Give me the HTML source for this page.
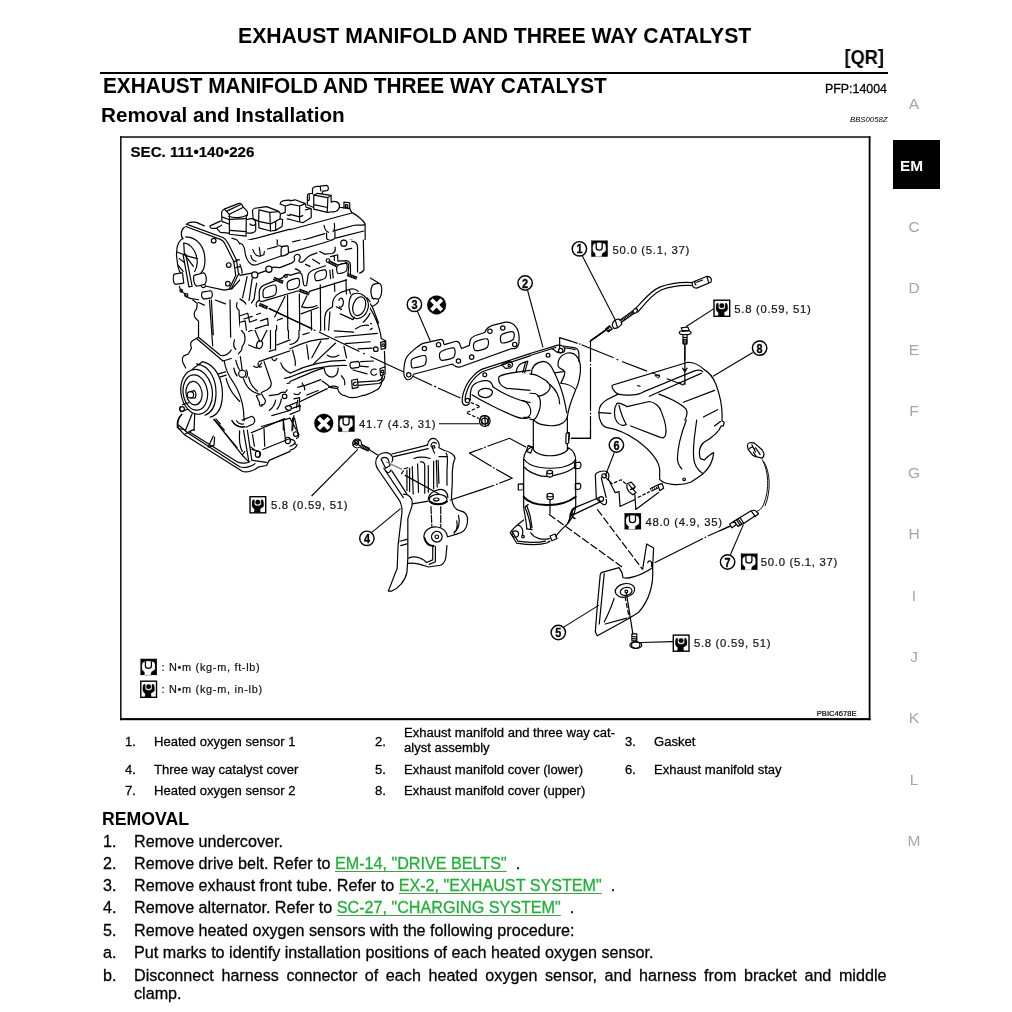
<!DOCTYPE html>
<html><head><meta charset="utf-8">
<style>
html,body{margin:0;padding:0;background:#fff;}
body{width:1012px;height:1012px;position:relative;overflow:hidden;font-family:"Liberation Sans",sans-serif;color:#000;}
.abs{position:absolute;white-space:nowrap;line-height:1;}
.b{font-weight:bold;}
.li,.lg,#pfp{-webkit-text-stroke:0.28px #000;}
a.g{-webkit-text-stroke:0.28px #20b038;}
body>*{will-change:transform;}
.tab{position:absolute;left:894.4px;width:40px;text-align:center;color:#a6a6a6;font-size:15.5px;line-height:1;}
.lg{position:absolute;font-size:13.05px;line-height:15.2px;white-space:nowrap;margin-top:0px;}
.li{position:absolute;left:103px;font-size:16.15px;line-height:1;white-space:nowrap;}
.li span.t{position:absolute;left:31px;top:0;}
a.g{color:#20b038;text-decoration:underline;text-decoration-color:#4a9a4a;text-decoration-thickness:1.4px;text-underline-offset:1.5px;}
</style></head><body>
<div class="abs b" id="t1" style="left:237.5px;top:24.7px;font-size:21.2px;">EXHAUST MANIFOLD AND THREE WAY CATALYST</div>
<div class="abs b" id="qr" style="right:128.3px;top:47.6px;font-size:19.4px;transform:scaleX(0.94);transform-origin:right;">[QR]</div>
<div style="position:absolute;left:100px;top:71.9px;width:788.3px;height:2.3px;background:#000;"></div>
<div class="abs b" id="t2" style="left:102.5px;top:74.6px;font-size:20.8px;transform:scaleY(1.045);transform-origin:0 0;">EXHAUST MANIFOLD AND THREE WAY CATALYST</div>
<div class="abs" id="pfp" style="right:125px;top:82.5px;font-size:12.4px;">PFP:14004</div>
<div class="abs b" id="t3" style="left:101px;top:105.3px;font-size:20.7px;">Removal and Installation</div>
<div class="abs" id="bbs" style="right:124.3px;top:115.6px;font-size:7.75px;font-style:italic;">BBS0058Z</div>




<svg id="dg" width="1012" height="1012" viewBox="0 0 1012 1012" style="position:absolute;left:0;top:0;" font-family="Liberation Sans, sans-serif">
<defs>
<g id="tqA"><rect width="16.4" height="16.1" fill="#000"/>
<path fill="#fff" d="M3.4,3 L5,2.4 L7.9,2 L10.8,2.4 L13.2,3 C14.2,3.6 14.6,5 14.6,7 L14.6,9.5 C14.6,11.5 11.5,12 10.9,13.2 L10.3,16.2 L3.9,16.2 L4.1,13.4 C3.4,12 1.4,11.5 1.4,9.5 L1.4,7 C1.4,5 1.9,3.6 3.4,3 Z"/>
<path fill="none" stroke="#000" stroke-width="1.3" d="M4.9,2.4 L4.9,7.1 Q4.9,9.5 7.9,9.5 Q10.9,9.5 10.9,7.1 L10.9,2.4"/></g>
<g id="tqB"><rect x="0.7" y="0.7" width="15.7" height="16.1" fill="#fff" stroke="#000" stroke-width="1.4"/>
<path fill="#000" d="M4.2,3.6 C3,4.2 2.7,5.5 2.7,7.5 L2.7,9.5 C2.7,11.5 4.4,12 5.2,13.4 L4.8,16.6 L11.2,16.6 L10.8,13.2 C11.4,12 14.4,11.5 14.4,9.5 L14.4,7.5 C14.4,5.5 14,4.2 12.8,3.6 L11.8,4 L11.8,8 C11.8,10.4 5.2,10.4 5.2,8 L5.2,4 Z"/>
<circle cx="8.5" cy="6.2" r="2.4" fill="#000"/></g>
<g id="nx"><circle r="9.5" fill="#000"/><path d="M-5.2,-5.2 L5.2,5.2 M-5.2,5.2 L5.2,-5.2" stroke="#fff" stroke-width="3.9" fill="none"/></g>
</defs>
<g id="box" fill="#000"><rect x="120.1" y="136.3" width="750.4" height="1.45"/><rect x="120.1" y="136.3" width="1.45" height="583.9"/><rect x="120.1" y="718.1" width="750.4" height="2.1"/><rect x="868.7" y="136.3" width="1.8" height="583.9"/></g>
<g id="labels" fill="#151515" stroke="#151515" stroke-width="0.22">
<text x="130.5" y="157" font-size="15.1" font-weight="bold" fill="#000">SEC. 111&#8226;140&#8226;226</text>
<!-- legend in box -->
<use href="#tqA" x="140.5" y="658.9"/><text x="161.6" y="671.3" font-size="10.9" letter-spacing="0.7">: N&#8226;m (kg-m, ft-lb)</text>
<use href="#tqB" x="140.1" y="680.5"/><text x="161.6" y="693" font-size="10.9" letter-spacing="0.7">: N&#8226;m (kg-m, in-lb)</text>
<text x="816.8" y="716.3" font-size="7.6" fill="#000">PBIC4678E</text>
<!-- torque labels -->
<use href="#tqA" x="591.3" y="240.6"/><text x="612.6" y="253.5" font-size="11.3" letter-spacing="0.72">50.0 (5.1, 37)</text>
<use href="#tqB" x="713.3" y="299.5"/><text x="734.3" y="312.5" font-size="11.3" letter-spacing="0.72">5.8 (0.59, 51)</text>
<use href="#nx" x="323.8" y="423.3"/><use href="#tqA" x="338.2" y="415.6"/><text x="359" y="427.9" font-size="11.3" letter-spacing="0.72">41.7 (4.3, 31)</text>
<use href="#tqB" x="249.3" y="496"/><text x="270.9" y="508.5" font-size="11.3" letter-spacing="0.72">5.8 (0.59, 51)</text>
<use href="#tqA" x="624.6" y="513.2"/><text x="645.5" y="525.6" font-size="11.3" letter-spacing="0.72">48.0 (4.9, 35)</text>
<use href="#tqA" x="741" y="553.7"/><text x="760.8" y="566.4" font-size="11.3" letter-spacing="0.72">50.0 (5.1, 37)</text>
<use href="#tqB" x="672.6" y="634.4"/><text x="693.9" y="647.2" font-size="11.3" letter-spacing="0.72">5.8 (0.59, 51)</text>
<use href="#nx" x="436.6" y="304.9"/>
</g>
<g id="circ" fill="#fff" stroke="#000" stroke-width="1.45">
<circle cx="579.4" cy="248.8" r="7.2"/><circle cx="525.1" cy="283" r="7.2"/><circle cx="414.4" cy="304.4" r="7.2"/>
<circle cx="366.9" cy="538.3" r="7.2"/><circle cx="558.3" cy="632.5" r="7.2"/><circle cx="616.4" cy="445" r="7.2"/>
<circle cx="727.6" cy="562" r="7.2"/><circle cx="759.6" cy="348.1" r="7.2"/>
</g>
<g id="nums" font-size="13.6" font-weight="bold" text-anchor="middle" fill="#000" stroke="#000" stroke-width="0.35">
<text transform="translate(579.4,253.4) scale(0.8,1)">1</text>
<text transform="translate(525.1,287.6) scale(0.8,1)">2</text>
<text transform="translate(414.4,309) scale(0.8,1)">3</text>
<text transform="translate(366.9,542.9) scale(0.8,1)">4</text>
<text transform="translate(558.3,637.1) scale(0.8,1)">5</text>
<text transform="translate(616.4,449.6) scale(0.8,1)">6</text>
<text transform="translate(727.6,566.6) scale(0.8,1)">7</text>
<text transform="translate(759.6,352.7) scale(0.8,1)">8</text>
</g>
<g id="leaders" fill="none" stroke="#000" stroke-width="1.1">
<path d="M582.1,255.5 L615.3,319.9"/>
<path d="M713.6,308.9 L685.9,326.8"/>
<path d="M527.5,290 L543,347.3"/>
<path d="M752.8,352.5 L713.1,376.3"/>
<path d="M614.4,452.3 L605.2,476"/>
<path d="M730.5,554.5 L743.4,524.6"/>
<path d="M563.7,627.1 L599,605.1"/>
<path d="M640.5,642.5 L672.9,641.6"/>
<path d="M438.9,423.7 L479.6,423.7"/>
<path d="M311.6,496 L357.8,449.4"/>
<path d="M370.9,533.2 L400.5,508.7"/>
<path d="M417.4,311.2 L430.3,341"/>
</g>
<!--tA--><g id="tA" transform="translate(160,170) scale(0.12846)" fill="none" stroke="#000" stroke-width="9.3" stroke-linecap="round" stroke-linejoin="round">
<!-- front cover edges -->
<path d="M215,425 L490,525 C510,535 520,550 530,570 L595,700 L612,810 L555,925"/>
<path d="M200,440 L470,540 C490,548 500,560 508,580 L575,715 L590,820 L540,925"/>
<path d="M205,425 C215,405 290,395 305,420"/>
<path d="M300,415 L345,435"/>
<path d="M190,445 C160,465 160,520 180,535"/>
<path d="M175,535 C130,560 120,640 135,720 C140,760 150,790 160,800"/>
<path d="M200,520 C290,520 350,600 350,700 C350,740 340,780 320,800"/>
<path d="M185,570 C240,570 290,640 290,720 C290,750 280,770 270,790"/>
<path d="M185,570 L190,660 M190,660 L135,640 M195,665 L290,690 M200,670 L260,750 M150,690 L190,720 M140,740 L180,790"/>
<path d="M180,660 L225,910 M200,655 L250,905 M180,660 L200,655 M225,910 L250,905"/>
<path d="M110,810 L175,800 L185,880 L120,890 C100,880 100,830 110,810 Z"/>
<path d="M265,820 L340,800 C360,810 370,860 350,890 L285,905 C265,890 255,850 265,820Z"/>
<circle cx="418" cy="550" r="18"/><circle cx="535" cy="740" r="18"/><circle cx="528" cy="885" r="18"/>
<path d="M150,905 C155,930 170,950 190,960 C200,985 215,995 235,1000 L300,1010"/>
<circle cx="165" cy="940" r="10"/><circle cx="205" cy="975" r="12"/>
<path d="M330,950 L395,940 C410,950 412,980 400,995 L340,1005 C320,990 320,965 330,950 Z"/>
<path d="M320,905 C330,920 350,920 355,900"/>
<path d="M360,905 L500,935 L555,925"/>
<path d="M570,715 L600,705 M590,760 L630,750 L635,700 L600,700"/>
<path d="M615,810 L690,800"/>
<!-- coil 1 -->
<path d="M480,330 C480,315 490,310 500,305 L610,262 C630,255 640,270 645,285 L678,320 C685,330 682,345 678,355"/>
<path d="M535,360 C580,378 640,372 680,350"/>
<path d="M500,305 L540,345 L540,500 L670,515 L672,360"/>
<path d="M540,345 L650,290 M520,320 L625,270"/>
<path d="M540,385 L670,378 M545,470 L670,480"/>
<path d="M480,330 L482,400 L535,420 M482,365 L535,385"/>
<!-- valve cover left box -->
<path d="M390,435 L470,398 M390,435 C385,445 395,455 410,455 L440,452 L470,485 L535,492 M440,452 L480,430"/>
<path d="M560,530 L600,545 L640,600"/>
<!-- between coil1 and coil2 -->
<path d="M680,385 C720,370 745,385 745,410 C745,430 720,440 700,420 M745,410 L745,470 C740,490 700,495 680,490"/>
<!-- coil 2 -->
<path d="M720,320 C720,305 740,295 760,295 L830,285 L920,320 C935,328 940,345 935,360 L935,380 L955,385 L950,440 L900,470 L860,475 L770,450 L768,400 L725,380 Z"/>
<path d="M770,310 L768,400 M770,310 L855,330 L860,475 M855,330 L925,325 M768,400 L860,420 M860,420 L900,400 L900,470 M900,400 L935,380"/>
<!-- coil 3 partial -->
<path d="M935,265 C935,245 960,235 1012,235 M935,265 L975,280 L975,330 L945,340 M975,280 L1012,270"/>
<path d="M990,350 L1012,355 M990,380 L1012,385"/>
<!-- valve cover front -->
<path d="M640,560 L1012,460"/>
<path d="M655,590 L660,650 C665,690 690,730 720,745 L760,735 L1005,640"/>
<path d="M690,660 C700,700 720,720 740,715 M730,620 C740,650 760,665 800,655 L810,690 M835,635 L905,615"/>
<path d="M905,545 C910,580 925,600 945,600 L945,650 C960,665 990,660 1000,645 L1000,590"/>
<!-- head below -->
<circle cx="850" cy="775" r="22"/><circle cx="740" cy="815" r="22"/><circle cx="985" cy="825" r="15"/>
<path d="M690,800 C700,790 715,790 720,800 M765,810 L825,785 M875,765 C900,750 920,770 940,760 L1012,735"/>
<path d="M885,845 L955,880" stroke-width="22"/>
<path d="M885,845 L955,880" stroke="#fff" stroke-width="8" stroke-dasharray="6 10"/>
<path d="M905,820 L930,815 L935,850"/>
<path d="M800,940 L905,895 C925,890 940,900 940,920 L940,965 M800,940 L800,1012 M775,930 C780,900 850,870 880,870 M960,860 C985,870 995,900 990,940 L1012,945"/>
<path d="M640,835 L690,800 M665,860 C650,900 640,950 650,1012 M690,830 C670,880 660,950 670,1012 M720,850 C715,900 735,950 740,1012 M750,870 C745,930 770,960 775,1012"/>
<path d="M560,925 L640,835"/>
</g>
<!--/tA-->
<!--tB--><g id="tB" transform="translate(290,170) scale(0.12846)" fill="none" stroke="#000" stroke-width="9.3" stroke-linecap="round" stroke-linejoin="round">
<!-- coil 3 -->
<path d="M0,240 L40,232 L120,262 L125,290 L165,300 L165,370 L100,410 L75,405 L0,385 M75,280 L75,405 M0,265 L75,280 L120,262 M0,345 L75,365 M120,310 L165,300 M75,365 L100,355"/>
<!-- coil 4 -->
<path d="M175,185 L175,145 C180,130 200,125 235,125 L285,120 C300,125 305,150 290,160 L255,165 L250,185 M235,125 L240,162"/>
<path d="M135,200 C135,185 150,180 175,185 M135,200 L135,270 L180,290 M150,190 L150,235 L135,240"/>
<path d="M185,195 L185,305 L290,330 L295,215 Z M185,195 L215,182 L320,197 L295,215 M185,270 L292,292"/>
<path d="M320,197 L320,250 C350,235 385,250 385,280 C385,310 360,330 330,325 L290,330"/>
<path d="M420,250 L465,255 L465,300 L420,295 Z M432,270 L450,272 L450,290 L432,288 Z"/>
<path d="M385,290 L420,295 M465,300 L480,330 C520,350 570,390 585,420 L585,750 C580,770 560,785 545,790"/>
<path d="M0,465 L480,335"/>
<path d="M20,570 L270,495 M355,470 L500,430 C530,425 560,435 580,425"/>
<path d="M265,430 C270,460 285,480 300,485 M345,415 C350,445 345,470 335,480 M285,490 L285,535 C300,555 340,550 350,530 L350,470"/>
<path d="M0,640 L285,555 M355,530 L575,475"/>
<circle cx="418" cy="570" r="22"/>
<path d="M470,545 C500,545 520,560 520,590 L520,780 M475,590 L510,600"/>
<path d="M405,630 L450,615 M345,600 C350,620 340,640 320,645 L280,650 L235,630 M130,640 L195,625 M130,640 L115,700 L70,720"/>
<path d="M0,720 C10,680 40,650 65,665 C80,680 70,700 55,705 M180,690 L235,720 M120,735 L155,750"/>
<path d="M320,660 L395,655 L395,690 L455,690 C475,695 480,710 480,730 L480,800 M345,665 L345,700"/>
<g stroke-width="22"><path d="M300,720 L365,745 M445,815 L520,845 M75,935 L150,965"/></g>
<g stroke="#fff" stroke-width="9" stroke-dasharray="5 9"><path d="M300,720 L365,745 M445,815 L520,845 M75,935 L150,965"/></g>
<circle cx="295" cy="705" r="15"/>
<path d="M190,800 C195,785 270,765 285,775 C295,785 295,830 285,840 C270,855 205,870 195,860 Z"/>
<path d="M355,770 C365,755 420,730 440,735 C455,745 450,780 440,795 C420,810 370,815 360,810 Z"/>
<path d="M0,830 C30,800 60,790 75,800 L100,890 C110,900 120,895 125,885 L135,800 C150,780 165,800 165,830 L165,870 M0,780 C30,760 60,770 80,785 M310,770 L310,830"/>
<path d="M0,850 L55,840 C68,850 68,885 55,900 L0,915"/>
<path d="M150,910 L460,845 M165,870 L340,832"/>
<path d="M235,900 L235,1012 M345,870 L345,960 M440,860 L440,940"/>
<path d="M545,790 L590,820 L700,885 C720,900 720,980 690,1005 L640,1000 M640,900 C625,930 625,980 650,1005 M640,900 C650,885 690,880 700,885"/>
<path d="M330,985 C360,950 420,940 450,945 L480,925 C520,915 560,930 580,960 L600,990 M480,1012 C490,975 540,960 580,985 M380,1012 C385,990 400,980 415,990"/>
</g>
<!--/tB-->
<!--tC--><g id="tC" transform="translate(160,300) scale(0.12846)" fill="none" stroke="#000" stroke-width="9.3" stroke-linecap="round" stroke-linejoin="round">
<path d="M255,0 L290,25 L285,70 C265,85 260,120 275,140 L300,165 L300,290 L265,310 C240,320 230,340 245,375 L220,420 L185,435 C170,450 170,480 185,500 L200,530"/>
<path d="M385,0 L410,355 M400,0 L415,270 M545,0 L550,290 M300,20 L345,40 M430,0 L510,30"/>
<path d="M285,300 L490,475 M300,290 L470,430 C500,440 540,420 555,390 M490,475 L555,455"/>
<path d="M600,20 C590,50 600,70 615,80 L620,180 C625,230 640,250 655,260 C670,300 660,340 640,360 L635,390 L610,420 M580,310 C570,340 575,370 590,385 M640,0 L650,40"/>
<path d="M640,130 L720,105 M660,160 L690,150 L700,175 L760,155 M690,245 L860,180 M720,190 L775,320 M850,200 L790,320 M690,350 L750,375"/>
<ellipse cx="775" cy="348" rx="22" ry="30" transform="rotate(20 775 348)"/>
<path d="M780,150 L850,125 L850,200 M740,175 L800,160 M860,120 L860,380 M900,100 L900,390 M905,170 L1012,130 M910,350 L1012,310 M1000,60 L1000,300 M900,130 L960,30 M860,30 L940,60 M700,105 L850,60"/>
<path d="M775,40 L840,62" stroke-width="24"/><path d="M775,40 L840,62" stroke="#fff" stroke-width="10"/><path d="M775,40 L840,62" stroke-width="10" stroke-dasharray="4 8" stroke-linecap="butt"/>
<path d="M850,65 L1012,145"/>
<path d="M770,480 L1012,395 M850,400 L900,385 M870,450 C875,475 900,480 910,455"/>
<!-- pulley -->
<ellipse cx="285" cy="715" rx="122" ry="175" transform="rotate(-8 285 715)"/>
<ellipse cx="275" cy="720" rx="95" ry="138" transform="rotate(-8 275 720)"/>
<ellipse cx="265" cy="725" rx="62" ry="92" transform="rotate(-8 265 725)"/>
<path d="M330,480 C430,500 495,620 485,760 C478,850 440,900 390,912 M285,497 C380,510 445,610 435,750 C430,830 395,880 350,897 M250,540 L330,480"/>
<circle cx="237" cy="738" r="25"/><path d="M237,713 L265,705 C285,715 285,760 265,765 L237,763"/>
<path d="M160,830 C150,840 150,860 165,870 L215,850 M175,815 L225,800"/><circle cx="172" cy="848" r="18"/>
<path d="M170,890 C140,920 130,970 145,1000 L200,1012 M250,885 L200,1012 M270,890 L265,1012"/>
<path d="M455,575 L510,560 M465,600 L515,585"/>
<path d="M500,475 C510,540 540,600 570,640 C610,700 640,780 650,860 L655,940 M515,610 C530,680 570,740 620,790"/>
<path d="M590,470 C600,510 615,540 625,550 M670,545 C685,560 685,590 670,605 M575,530 C580,560 590,580 600,590 M625,440 L640,545"/><circle cx="640" cy="575" r="28"/>
<path d="M650,610 C670,680 720,720 770,730 M690,600 C700,650 730,690 760,710 M730,515 C750,530 770,530 790,490 M765,490 C760,510 770,530 790,520"/>
<path d="M810,480 L865,640 C870,670 850,690 830,700 L790,720"/>
<path d="M750,745 L790,730 L820,780 C825,800 810,820 790,815 M750,745 L775,800 C770,815 780,830 795,825"/>
<path d="M850,745 L920,735 C940,720 960,715 975,720 M990,700 L975,720 M945,770 C940,800 930,830 910,850 M900,780 C895,810 880,840 850,860"/><circle cx="970" cy="750" r="18"/>
<path d="M940,490 C950,530 990,560 1012,565 M970,610 L1012,600 M990,650 L1012,645 M975,835 C990,820 1012,820 1012,820 M975,835 C980,855 1000,860 1012,860"/>
<path d="M870,900 L1012,860 M790,985 L1012,920 M960,935 L960,1012"/>
<path d="M640,935 L715,905 C740,915 745,950 725,965 L670,990 M560,940 C580,975 620,995 660,985 M595,940 C610,960 630,970 650,965"/>
<path d="M420,930 L500,1012 M435,925 L470,965"/>
</g>
<!--/tC-->
<!--tD--><g id="tD" transform="translate(290,300) scale(0.12846)" fill="none" stroke="#000" stroke-width="9.3" stroke-linecap="round" stroke-linejoin="round">
<path d="M460,20 C455,60 480,100 520,105 C560,105 590,60 600,20 M490,0 C480,50 500,85 525,90 M600,0 L640,50 C660,40 690,30 690,0"/>
<path d="M600,30 C640,80 700,200 710,300 L740,315 M640,50 L690,180 M740,315 L740,380 M735,400 L740,520 M715,600 C720,650 700,680 690,690"/>
<path d="M705,330 L745,320 L745,375 L710,385 Z M700,535 L740,520 L740,575 L705,590Z"/><circle cx="668" cy="383" r="18"/><circle cx="725" cy="352" r="10"/><circle cx="720" cy="556" r="10"/>
<path d="M635,185 C610,175 590,195 595,215 C600,235 625,235 640,220 M670,540 C645,530 625,550 630,570 C635,590 660,590 675,575"/>
<path d="M510,230 C530,200 560,185 590,180 M345,240 L495,250 M350,290 L680,260 M430,340 L625,325 M530,380 L640,375"/>
<path d="M70,0 L70,290 C60,330 20,345 0,345 M240,0 L235,240 M285,70 L275,210 M285,70 L330,60 M90,85 L215,50 M160,95 L160,200 M100,40 L210,20 M100,270 L150,255"/>
<path d="M380,90 L490,150 L480,100 M350,50 L400,70 M540,110 L520,150 M380,0 C390,20 410,40 420,50"/>
<path d="M0,380 C100,330 200,300 300,300 M0,570 C100,520 250,470 430,470 M0,600 C100,555 250,505 440,510 M0,635 C100,590 200,545 260,530"/>
<path d="M130,350 L145,460 M240,320 L170,450 M355,335 L185,495 M20,390 C30,440 50,480 40,510 M420,360 L440,450 M290,430 C320,450 350,450 380,430"/>
<path d="M265,530 C270,570 290,600 330,600 C360,595 375,570 375,530"/>
<path d="M475,485 L530,478 C545,485 545,515 535,525 L480,532 C465,525 462,495 475,485Z"/>
<path d="M550,480 L650,475 M545,515 L610,520 M490,545 L600,575"/>
<path d="M530,640 L680,630 C710,625 725,600 725,570 M535,665 L690,650 C720,640 735,620 738,590"/>
<path d="M480,625 L525,615 L530,680 L485,690 Z M515,640 C500,635 490,650 495,660 C500,670 515,668 518,660"/>
<path d="M400,590 C420,610 430,640 425,660 M250,630 C280,650 300,660 310,680 L370,690 C380,720 400,745 430,745 C470,770 520,760 560,745 C600,740 640,720 690,690 M300,680 C320,670 350,665 375,680"/>
<path d="M60,680 L110,665 L115,700 M95,645 L105,670 M130,740 L220,705 M120,665 L240,620 M30,730 C50,740 70,740 80,720 M30,770 L75,760 L70,830 M0,850 L80,820 L75,860 L0,890 M80,790 L290,690 M0,830 C10,825 15,840 10,850 M0,920 L50,1012 M30,900 L20,1012"/>
</g>
<!--/tD-->
<!--tE--><g id="tE" transform="translate(160,400) scale(0.12846)" fill="none" stroke="#000" stroke-width="9.3" stroke-linecap="round" stroke-linejoin="round">
<path d="M135,210 L190,270 L640,555 C680,570 740,545 770,520 L830,510 L850,470 L1012,400"/>
<path d="M145,195 L215,255 L620,520 C660,535 720,515 740,495"/>
<path d="M230,250 L600,480 C640,500 690,490 700,480"/>
<path d="M170,110 C140,140 130,180 135,210 M250,234 L195,265 M268,234 L265,230 L215,255"/>
<path d="M415,280 L375,365 M425,290 L420,355 L375,365"/>
<path d="M420,150 L640,430 L690,480 M435,170 L600,370 M640,430 L660,400"/>
<path d="M620,240 C615,300 625,370 640,400 M650,235 L690,470 M680,235 L715,470 M560,160 C580,200 620,215 660,210"/>
<path d="M710,255 L970,145 M720,270 L735,360 M810,225 L815,360 M800,385 L1012,300 M960,150 L975,300"/>
<ellipse cx="995" cy="315" rx="20" ry="25"/>
<path d="M715,385 L770,400 C790,410 785,440 765,445 M705,365 L745,395"/><ellipse cx="760" cy="422" rx="18" ry="25"/>
<path d="M720,470 L830,485"/>
</g>
<g id="tF" transform="translate(290,400) scale(0.12846)" fill="none" stroke="#000" stroke-width="9.3" stroke-linecap="round" stroke-linejoin="round">
<path d="M0,40 L50,20 M60,0 L50,60 M35,140 L60,250 C75,270 70,290 50,300 M0,310 C30,305 45,320 40,345 M0,390 C20,385 50,370 55,345 M0,360 C15,355 35,345 40,330 M20,140 L15,240"/><circle cx="45" cy="265" r="18"/>
</g>
<!--/tE-->
<!--tP--><rect x="240" y="240" width="130" height="90" fill="#fff"/>
<g id="tP" transform="translate(240,240) scale(0.12846)" fill="none" stroke="#000" stroke-width="9.3" stroke-linecap="round" stroke-linejoin="round">
<path d="M0,25 C20,30 30,45 35,70 C40,120 55,170 90,190 C110,200 130,195 150,185 L320,125 L320,70 C320,55 340,45 360,45 L375,50 L378,100 C370,115 340,125 320,125 M290,0 L290,35 C300,50 340,55 370,45 M378,100 L640,25 L720,0"/>
<path d="M100,75 C110,110 130,130 160,125 L185,115 L190,90 M150,60 L160,125 M85,120 C90,150 105,165 125,165 M215,70 L290,50 M410,15 L470,0"/>
<circle cx="808" cy="25" r="24"/><path d="M870,10 C900,10 915,30 915,60 L915,250 M960,0 L965,230 C960,245 945,255 930,258 M820,75 L870,65 M740,55 C745,80 735,100 715,105 L660,110 L620,90"/>
<path d="M0,275 L92,258 M140,262 L200,240 M250,215 C270,205 290,215 310,215 L400,180 C420,170 430,165 425,150 C415,130 430,110 450,112 C470,115 475,140 460,155 C455,170 470,180 490,170 L510,150 C520,135 530,130 545,120 L600,100"/>
<circle cx="115" cy="272" r="24"/><circle cx="225" cy="228" r="24"/>
<path d="M510,190 L545,205 M565,150 L620,185 M430,225 C450,230 465,240 470,250 M705,130 L760,115 L762,165 L830,160 C850,165 860,180 860,200 L860,260 M735,125 L735,160"/>
<path d="M150,470 L150,400 C155,370 170,355 200,345 L330,295 C345,265 375,262 390,275 L445,258 C470,250 482,262 485,282 L495,345 C500,362 516,362 520,345 L530,272 C540,245 560,236 585,228 L665,200"/>
<path d="M150,470 C160,480 180,480 200,470 L455,395 M540,400 L830,310 M760,195 L830,175 C845,180 850,200 845,225 L840,265 M130,520 C120,500 125,480 150,470"/>
<path d="M185,385 C190,370 260,345 275,352 C288,362 285,410 275,425 C260,440 195,455 185,447 C175,435 178,395 185,385Z"/>
<path d="M370,330 C378,312 440,295 455,300 C468,310 465,350 455,365 C440,380 385,392 375,386 C365,375 365,340 370,330Z"/>
<path d="M585,262 C592,245 650,228 665,233 C678,243 675,280 665,295 C650,310 600,320 590,315 C580,305 580,272 585,262Z"/>
<path d="M755,205 C762,190 815,178 828,183 C838,192 836,225 828,240 C815,255 770,265 760,258 C752,248 750,215 755,205Z"/>
<circle cx="357" cy="280" r="11"/><circle cx="685" cy="160" r="14"/>
<path d="M700,235 L705,300 M720,230 L725,295"/>
<g stroke-width="26" stroke-linecap="butt"><path d="M262,298 L335,330 M460,390 L540,420 M688,168 L755,200 M835,268 L910,298 M150,500 L215,530"/></g>
<g stroke="#fff" stroke-width="9" stroke-linecap="butt" stroke-dasharray="3.5 9"><path d="M266,300 L335,330 M464,392 L540,420 M692,170 L755,200 M839,270 L910,298 M154,502 L215,530"/></g>
<path d="M370,430 L372,701 M462,420 L465,701 M555,555 L557,701 M625,350 L628,701 M735,335 L738,400 M825,310 L828,420"/>
<path d="M520,435 L480,520 C520,530 570,525 600,510 M475,575 L610,525 M350,440 L270,600 M225,535 L560,690"/>
<path d="M0,590 L60,570 L75,640 L130,620 M30,615 L95,595 M0,640 L40,630 L50,701 M130,580 L160,570 M160,630 L215,610 L220,665 M120,690 L215,660 M285,665 L285,701 M330,610 L290,625"/>
<path d="M95,300 C85,350 80,420 70,470 M130,335 C120,380 115,420 110,460 L90,490 M55,285 C45,340 30,400 20,450 M0,460 C20,470 40,480 45,500 M0,190 C10,220 20,240 15,260"/>
<path d="M660,701 C655,600 660,560 690,540 L720,520 C715,470 740,430 780,410 L850,385 C880,375 910,385 920,400"/>
<path d="M880,420 C940,400 1000,440 1000,510 C995,570 950,620 900,610 C860,600 840,540 850,480 C855,450 865,430 880,420Z"/>
<ellipse cx="928" cy="515" rx="48" ry="75" transform="rotate(18 928 515)"/>
<path d="M770,470 C780,440 800,450 805,480 C805,510 790,530 775,520 M850,385 L860,420 M780,575 L880,620 L890,600 M750,520 L790,540 M700,560 L690,701 M990,450 L1012,480 M960,640 C980,620 1000,600 1012,570 M900,690 C930,670 970,660 1000,665"/>
</g>
<!--/tP-->
<!--tG--><g id="tG" transform="translate(400,310) scale(0.12846)" fill="none" stroke="#000" stroke-width="9.3" stroke-linecap="round" stroke-linejoin="round">
<!-- gasket -->
<path d="M35,520 C25,500 30,420 45,380 C55,350 150,270 180,260 L310,230 C330,225 340,240 340,260 L345,270 L430,245 C455,240 465,255 470,280 L480,300 L540,275 L545,240 C550,215 570,205 600,195 L660,175 C670,150 690,130 720,120 L820,95 C850,90 880,105 900,130 C925,160 930,220 925,260 C920,290 900,305 870,300 L480,440 C450,450 420,440 410,420 L105,500 C100,530 70,550 50,540 Z"/>
<path d="M90,390 C95,375 180,350 195,355 C210,365 205,410 195,425 C180,440 105,455 95,450 C85,440 85,400 90,390Z"/>
<path d="M310,335 C320,315 400,290 420,295 C435,305 430,350 420,365 C400,385 330,395 320,390 C305,380 305,345 310,335Z"/>
<path d="M575,260 C585,240 665,220 680,225 C695,235 690,275 680,290 C660,310 595,320 585,315 C570,305 570,270 575,260Z"/>
<path d="M785,200 C795,180 865,165 880,170 C895,180 890,215 880,230 C860,250 800,260 790,255 C780,245 780,210 785,200Z"/>
<circle cx="190" cy="300" r="17"/><circle cx="300" cy="270" r="17"/><circle cx="455" cy="397" r="17"/><circle cx="558" cy="367" r="17"/><circle cx="700" cy="165" r="17"/><circle cx="800" cy="140" r="17"/><circle cx="893" cy="268" r="17"/><circle cx="68" cy="505" r="17"/>
<!-- manifold flange left end -->
<path d="M1012,340 L640,460 C600,475 540,540 520,580 C500,620 480,680 485,720 C490,745 520,750 540,730"/>
<path d="M1012,357 L650,477 C610,492 555,555 535,595 C520,630 505,680 508,700"/>
<circle cx="525" cy="705" r="17"/><circle cx="660" cy="505" r="15"/>
<path d="M548,700 C545,660 550,610 570,585 C590,565 640,545 680,550 C710,555 720,580 725,600"/>
<path d="M610,640 C620,610 680,600 715,625 C730,650 700,690 650,680 C620,675 605,660 610,640Z"/>
<path d="M790,425 L850,400 C880,405 885,435 860,450 L820,455 Z"/><circle cx="850" cy="432" r="9"/>
<path d="M560,660 C620,700 800,790 900,830 C950,850 990,845 1012,835 M725,600 C780,640 900,700 1012,720"/>
<path d="M770,520 C790,500 850,490 1012,470 M770,520 C760,560 790,600 830,610 L1012,625"/>
<path d="M905,480 C910,440 930,420 960,410 L995,398 M995,398 L970,490 M978,405 L955,488"/>
<!-- stud dashed & nut -->
<path d="M550,720 L625,750 L515,800 L615,845" stroke-dasharray="28 14" stroke-linecap="butt"/>
<circle cx="660" cy="865" r="42"/><circle cx="660" cy="865" r="24"/><path d="M625,840 L640,890 M660,823 L665,907 M690,835 L685,900 M630,830 C650,815 680,820 695,840"/>
</g>
<g id="tH" transform="translate(480,310) scale(0.12846)" fill="none" stroke="#000" stroke-width="9.3" stroke-linecap="round" stroke-linejoin="round">
<path d="M389,339 L600,275 M389,354 L590,292"/>
<path d="M600,275 C640,270 660,290 660,310 C660,335 620,340 600,325 M560,300 L600,330"/><circle cx="628" cy="315" r="17"/>
<path d="M620,300 L620,215 L700,240"/>
<path d="M650,280 L740,295 C760,300 770,320 770,350 L770,400 M660,295 C700,300 720,300 740,310"/>
<circle cx="530" cy="352" r="15"/>
<path d="M400,500 C400,450 430,410 490,400 C530,400 560,440 580,490 C620,570 660,700 675,800 M545,580 C590,620 620,680 620,730"/>
<path d="M610,440 C600,400 620,350 680,335 C730,325 760,360 775,400 C790,450 780,540 750,610 M610,440 C620,460 650,460 660,480 C665,510 640,540 630,570 M580,490 L650,480"/>
<path d="M630,570 C680,575 720,590 745,620 C720,680 690,750 680,830"/>
<path d="M389,497 C430,500 460,515 480,530 C530,555 550,580 545,610 C530,650 480,670 450,670"/>
<path d="M389,648 L430,650 C460,660 475,700 470,740 C465,790 440,840 420,855 L389,850"/>
<path d="M330,705 C370,710 400,760 395,800 C390,830 370,840 340,835"/>
<path d="M420,855 C440,890 520,905 580,900 C630,895 670,870 680,830 M415,860 L415,1012 M680,830 L680,950 M680,955 L695,955 L690,1012"/>
<path d="M860,240 L1000,140 M985,150 L1012,125 M995,165 L1012,150"/>

</g>
<!--/tG-->
<!--tI--><g id="tI" transform="translate(480,430) scale(0.12846)" fill="none" stroke="#000" stroke-width="9.3" stroke-linecap="round" stroke-linejoin="round">
<path d="M415,78 L415,150 M680,110 L680,150"/>
<path d="M670,30 C670,20 690,20 695,30 L690,100 C685,110 670,110 668,100 Z"/>
<path d="M710,65 L860,65 L860,0"/>
<path d="M415,150 C430,190 520,210 600,195 C650,185 680,165 690,140"/>
<path d="M340,230 C340,180 370,140 415,130 M690,140 C730,160 745,200 745,240"/>
<path d="M345,230 C380,290 520,310 640,290 C700,275 740,250 745,225"/>
<path d="M345,290 C400,350 500,365 520,360 M570,355 C650,340 720,310 745,280"/>
<path d="M340,230 L340,520 M745,240 L745,600"/>
<path d="M340,520 C400,595 620,615 745,520" stroke-width="15"/>
<path d="M375,120 L410,135 L395,180 L360,165 Z"/>
<path d="M735,255 L775,250 C790,260 790,290 775,298 L738,300 Z"/>
<path d="M520,325 C520,310 565,310 565,325 L565,355 C565,370 520,370 520,355 Z M520,330 C530,345 555,345 565,330"/>
<path d="M298,422 L338,420 L338,465 L298,467 Z"/>
<path d="M742,418 L775,415 C788,425 788,450 775,460 L742,462 Z"/>
<path d="M522,505 C522,490 570,490 570,505 L570,530 C570,545 522,545 522,530 Z M522,510 C532,525 560,525 570,510"/>
<path d="M545,545 L545,650"/>
<path d="M340,520 L340,600 C345,650 360,700 365,770 M745,600 C740,650 700,720 650,760 C620,790 600,810 590,830"/>
<path d="M350,600 C370,650 390,700 395,770 M365,590 C385,640 400,700 405,760 M375,580 L350,600 M365,770 L405,775"/>
<path d="M745,600 C720,610 700,640 700,680 L690,720 M720,620 C710,650 720,680 740,690"/>
<path d="M340,700 C300,730 250,770 235,800 L285,880 C350,890 450,900 520,880 L545,865 M250,790 L295,865 C350,875 450,880 510,865 M300,740 C330,750 340,790 330,820 M395,800 C420,840 480,860 540,845"/>
<path d="M545,825 L585,810 L600,845 L560,862 Z"/><circle cx="275" cy="810" r="25"/><circle cx="335" cy="830" r="10"/>
</g>
<!--/tI-->
<!--tJ--><g id="tJ" transform="translate(590,340) scale(0.14822)" fill="none" stroke="#000" stroke-width="8.1" stroke-linecap="round" stroke-linejoin="round">
<path d="M150,305 C145,320 160,350 190,365 L120,400 C80,420 60,450 60,490 C60,540 80,580 110,590 C170,600 250,630 320,680 C400,740 460,800 470,870 L470,940 C500,975 600,990 680,960 L760,905 C800,870 830,820 835,760 C810,770 790,790 770,810 L745,800 C730,760 740,710 770,690 C820,660 870,620 885,580 L900,580 L905,555 L890,545 C895,480 880,380 850,300 C830,250 800,215 770,200 C740,170 700,150 660,150 Z"/>
<path d="M190,365 C250,380 330,370 360,350 L700,210 C730,200 750,200 760,215 M400,380 L750,225"/>
<path d="M640,40 L640,300 M625,190 L640,215 L655,190"/>
<path d="M632,0 L632,28 L650,28 L650,0"/>
<path d="M465,365 C530,390 620,430 650,470 C660,490 650,520 640,540 M630,420 L840,340 M765,520 L860,470 M840,580 L880,550"/>
<path d="M650,540 C620,620 590,720 590,800 C590,830 600,850 620,870 M720,540 C710,620 690,720 700,800 C705,850 730,880 760,900"/>
<path d="M250,450 L400,415 C440,420 470,450 480,480 C500,530 520,600 510,640 C505,660 490,665 470,655 L275,580 M180,430 C160,460 160,520 180,550 C200,580 230,580 245,570 M180,430 C190,420 210,425 250,450 M195,440 C205,480 220,530 245,570 M60,490 L140,495"/>
<circle cx="635" cy="940" r="9"/><path d="M322,308 L338,312"/>
<path d="M420,220 L470,245 M520,262 L620,300 M600,285 L625,305 L640,290" stroke-width="7"/>
<path d="M440,240 L470,235 L465,255Z" stroke-width="6"/>
</g>
<!--/tJ-->
<!--tK--><g id="tK" transform="translate(590,260) scale(0.14822)" fill="none" stroke="#000" stroke-width="8.1" stroke-linecap="round" stroke-linejoin="round">
<path d="M105,465 L130,445 L150,465 L125,485 Z"/>
<path d="M150,440 C150,415 175,395 200,400 L215,430 C200,455 175,465 160,460 Z M170,405 L185,455"/>
<path d="M205,415 L295,350" stroke-width="26" stroke-linecap="butt"/><path d="M205,415 L295,350" stroke="#fff" stroke-width="11" stroke-linecap="butt" stroke-dasharray="4 8"/>
<ellipse cx="305" cy="343" rx="13" ry="18" transform="rotate(35 305 343)"/>
<path d="M305,330 C350,285 400,213 470,183 C540,158 620,148 690,153 M322,352 C365,302 415,232 480,202 C545,177 625,168 690,172"/>
<path d="M690,150 L790,110 C815,110 825,130 815,150 L720,190 C695,190 685,170 690,150 Z M720,150 L760,135 M790,112 L800,152 M715,168 C705,162 705,150 712,145"/>
<path d="M105,475 L0,550"/>
<!-- bolt -->
<path d="M615,458 L660,452 L670,475 L625,482 Z"/><ellipse cx="642" cy="490" rx="40" ry="13"/>
<path d="M627,505 L627,565 L655,565 L655,505 M627,520 L655,525 M627,535 L655,540 M627,550 L655,555"/>
<path d="M640,570 L640,675"/>
</g>
<!--/tK-->
<!--tL--><g id="tL" transform="translate(720,430) scale(0.14822)" fill="none" stroke="#000" stroke-width="8.1" stroke-linecap="round" stroke-linejoin="round">
<path d="M185,105 C185,85 210,80 235,90 L285,135 C300,155 300,175 285,190 L240,180 L220,170 L190,130 Z M215,100 L240,150 M240,120 L270,165 M200,125 C215,110 225,115 235,130 M225,150 L245,180"/>
<path d="M285,200 C330,280 335,400 295,500 C285,530 265,545 245,550 M297,215 C340,290 345,410 305,510" stroke-width="6.5"/>
<path d="M135,590 L210,545 L235,580 L160,630 Z M210,545 C225,540 240,540 245,550 L260,565 L235,585 M110,605 L135,640 M120,598 L145,632 M95,615 L120,648 M135,590 L95,615 M160,630 L120,650"/>
<path d="M65,635 L95,615 L110,640 L80,660 Z M65,650 L0,680"/>
</g>
<!--/tL-->
<!--tM--><g id="tM" transform="translate(350,430) scale(0.17794)" fill="none" stroke="#000" stroke-width="6.7" stroke-linecap="round" stroke-linejoin="round">
<!-- bolt -->
<circle cx="40" cy="76" r="25"/><circle cx="36" cy="72" r="13"/><path d="M22,60 L60,92 M18,84 L56,56"/>
<path d="M62,90 L108,112" stroke-width="24" stroke-linecap="butt"/><path d="M62,90 L108,112" stroke="#fff" stroke-width="9" stroke-linecap="butt" stroke-dasharray="3 7"/>
<path d="M100,105 L155,140"/>
<!-- strap -->
<path d="M155,150 C140,170 140,200 160,225 L280,400 C295,430 295,450 290,480 L270,650 L265,780 C250,810 235,860 215,905 L235,905 C270,890 310,850 320,800 L325,720 L325,500 C330,470 350,440 350,410 C350,380 330,360 300,360"/>
<path d="M155,150 C165,130 200,120 225,135 C240,145 245,165 235,180"/>
<path d="M190,215 L300,380 M235,230 L320,360"/>
<path d="M175,165 C180,150 205,150 215,165 L225,200 L200,215 Z M200,230 C210,245 225,240 230,225"/>
<path d="M235,135 L435,85 M245,150 L440,105"/>
<path d="M435,85 C440,55 460,40 480,50 C500,65 505,80 500,100 L530,115 M455,90 C455,70 470,65 485,75 M460,95 L475,130"/><circle cx="470" cy="95" r="7"/>
<path d="M530,115 C560,120 590,140 590,160 C570,200 575,250 575,290 L570,380 M540,130 C555,150 545,190 545,230 L545,310"/>
<path d="M320,225 L320,340 M335,215 L335,345 M350,205 L355,360 M380,190 L385,350 M395,180 C410,175 420,185 420,200 L420,355 M440,200 L440,350 M470,175 L470,330 M485,170 L490,320 M495,170 L500,300 M360,160 C380,150 420,150 450,160 M500,150 L545,150 M300,230 L290,245 M305,218 L325,212"/>
<path d="M205,180 L290,220" stroke="#777"/><path d="M310,255 L500,360"/>
<ellipse cx="495" cy="390" rx="50" ry="28"/><ellipse cx="485" cy="390" rx="15" ry="8"/>
<path d="M440,390 C440,360 470,340 500,335 C530,330 550,350 550,380"/><path d="M448,402 C470,422 520,422 545,402" stroke-width="11"/>
<path d="M350,415 L440,400"/>
<path d="M570,380 C575,420 590,450 620,455 C650,460 665,480 660,520 C655,560 630,580 600,585 L550,600 M610,480 C620,520 610,560 585,575 M600,510 C605,540 600,565 585,580"/>
<path d="M455,430 L460,540 M510,430 L510,545" stroke-dasharray="40 10"/>
<circle cx="488" cy="600" r="30"/><circle cx="488" cy="600" r="10"/>
<path d="M415,600 C415,565 450,540 490,545 C520,548 545,570 548,600"/><path d="M418,605 C425,635 445,650 470,652" stroke-width="11"/>
<path d="M465,655 L465,730 L430,745 M480,655 L480,740 L445,755 M330,720 C370,700 420,730 430,745 M325,750 C370,740 410,760 440,770 L510,760 C530,750 540,730 540,700 L545,650"/>
<path d="M280,625 L320,615 M285,650 L320,640"/>
</g>
<!--/tM-->
<!--tN--><g id="tN" transform="translate(540,460) scale(0.19758)" fill="none" stroke="#000" stroke-width="6.1" stroke-linecap="round" stroke-linejoin="round">
<!-- stay -->
<path d="M280,75 C285,60 320,50 340,60 C350,70 350,85 345,95 M280,75 L285,195 M285,195 C295,210 310,215 320,225 C335,230 340,215 335,200 M310,90 L335,190 M345,95 L380,165 L400,160 L405,235 L480,200 M480,175 L485,250 L600,165"/>
<ellipse cx="325" cy="80" rx="12" ry="10"/><circle cx="310" cy="197" r="12"/>
<path d="M335,92 L365,120 L410,100 L440,125" stroke-dasharray="18 8" stroke-linecap="butt"/>
<path d="M440,120 L462,112 L482,135 L472,150 L486,165 L470,176 L450,160 L440,142 Z M450,125 L472,150 M458,150 L478,140" />
<path d="M560,152 L598,133" stroke-width="20" stroke-linecap="butt"/><path d="M560,152 L598,133" stroke="#fff" stroke-width="9" stroke-linecap="butt"/><path d="M560,152 L598,133" stroke-width="9" stroke-dasharray="4 6" stroke-linecap="butt"/>
<path d="M597,125 L618,120 L626,143 L606,155 Z"/>
<path d="M495,190 L555,160" stroke-dasharray="18 8" stroke-linecap="butt"/>
<path d="M300,190 L180,240 M305,212 L172,275 M180,240 C160,250 155,280 150,300 L140,320 M165,252 C155,270 160,290 172,295"/>
<path d="M45,275 L420,545 M290,250 L520,555" stroke-dasharray="40 12" stroke-linecap="butt"/>
<!-- cover 5 -->
<path d="M310,570 L400,545 L415,570 L420,595 C440,605 500,590 570,545 C575,620 560,700 500,770 L445,805 L290,890 L280,870 L290,740 L305,580 Z"/>
<path d="M520,550 L540,425 L575,445 L570,545 M545,520 C550,508 560,508 565,520 L565,540"/>
<path d="M325,575 L300,830 M375,700 C360,750 340,790 325,820 M330,830 L440,800"/>
<ellipse cx="430" cy="660" rx="50" ry="34" transform="rotate(-12 430 660)"/><ellipse cx="436" cy="665" rx="30" ry="20" transform="rotate(-12 436 665)"/><circle cx="437" cy="666" r="7"/>
<path d="M437,672 L470,880"/><path d="M430,690 L452,800" stroke-dasharray="25 10" stroke-linecap="butt"/>
<path d="M465,880 L490,880 L490,915 L465,915 Z M465,892 L490,896 M465,903 L490,907"/>
<ellipse cx="485" cy="937" rx="30" ry="17"/><path d="M464,928 L480,918 L505,926 L505,945 L486,954 L464,946 Z"/>
</g>
<!--/tN-->
<!--dd--><g id="dd" fill="none" stroke="#000" stroke-width="1.15" stroke-linecap="butt">
<path d="M269.2,308.3 L310.5,328.3 M313.6,329.8 L315.4,330.7 M318.9,332.1 L359.4,351.4 M363,353.2 L364.8,354.1 M370.3,356.5 L403.7,371.9"/>
<path d="M412.8,376.2 L432.1,385.2 M434.2,386.1 L436,386.9 M438,387.9 L460.4,398"/>
<path d="M569.9,340.8 L577.6,343.4 M578.8,343.8 L580.4,344.3 M581.5,344.7 L613.7,357.8 M616.5,359.2 L618.3,360 M621.9,361.5 L647.1,371.1"/>
<path d="M590.5,340.8 L590.5,362 M590.5,363.8 L590.5,365.4 M590.5,367 L590.5,411 M590.5,412.6 L590.5,414.4 M590.5,416 L590.5,438.3 L571.2,438.3 M590.5,340.8 L608.5,328"/>
<path d="M469.2,453.1 L482.6,448.2 M484.2,447.6 L485.8,447 M487.5,446.3 L509.5,438.3 L526.2,447.3"/>
<path d="M469.2,453.1 L491.6,466.6 M493,467.4 L494.6,468.3 M496.1,469.2 L512.1,478.2 L499.3,483.3 M497.6,483.9 L496,484.5 M494.1,485.2 L481.7,489.6 L449.6,500.3"/>
<path d="M729.6,526.3 L707.9,536.1 M706.2,537 L704.6,537.8 M703,538.6 L654.6,562.7"/>
</g>
<!--/dd-->
<!--PARTS-->
</svg>

<!-- side tabs -->
<div class="tab" style="top:96px;">A</div>
<div style="position:absolute;left:893.3px;top:140.2px;width:46.6px;height:48.6px;background:#000;"></div>
<div class="abs b" style="left:900px;top:157.6px;font-size:15.4px;color:#fff;">EM</div>
<div class="tab" style="top:219px;">C</div>
<div class="tab" style="top:280px;">D</div>
<div class="tab" style="top:342px;">E</div>
<div class="tab" style="top:403px;">F</div>
<div class="tab" style="top:465px;">G</div>
<div class="tab" style="top:526px;">H</div>
<div class="tab" style="top:588px;">I</div>
<div class="tab" style="top:649px;">J</div>
<div class="tab" style="top:710px;">K</div>
<div class="tab" style="top:772px;">L</div>
<div class="tab" style="top:833px;">M</div>

<!-- legend -->
<div class="lg" style="left:125px;top:734px;">1.</div><div class="lg" style="left:154px;top:734px;">Heated oxygen sensor 1</div>
<div class="lg" style="left:375px;top:734px;">2.</div><div class="lg" style="left:404px;top:725px;">Exhaust manifold and three way cat-<br>alyst assembly</div>
<div class="lg" style="left:625px;top:734px;">3.</div><div class="lg" style="left:654px;top:734px;">Gasket</div>
<div class="lg" style="left:125px;top:762px;">4.</div><div class="lg" style="left:154px;top:762px;">Three way catalyst cover</div>
<div class="lg" style="left:375px;top:762px;">5.</div><div class="lg" style="left:404px;top:762px;">Exhaust manifold cover (lower)</div>
<div class="lg" style="left:625px;top:762px;">6.</div><div class="lg" style="left:654px;top:762px;">Exhaust manifold stay</div>
<div class="lg" style="left:125px;top:783px;">7.</div><div class="lg" style="left:154px;top:783px;">Heated oxygen sensor 2</div>
<div class="lg" style="left:375px;top:783px;">8.</div><div class="lg" style="left:404px;top:783px;">Exhaust manifold cover (upper)</div>

<div class="abs b" id="rem" style="left:101.5px;top:811.4px;font-size:17.7px;">REMOVAL</div>
<div class="li" style="top:833px;">1.<span class="t">Remove undercover.</span></div>
<div class="li" style="top:855px;">2.<span class="t">Remove drive belt. Refer to <a class="g">EM-14, "DRIVE BELTS"</a>&nbsp; .</span></div>
<div class="li" style="top:877px;">3.<span class="t">Remove exhaust front tube. Refer to <a class="g">EX-2, "EXHAUST SYSTEM"</a>&nbsp; .</span></div>
<div class="li" style="top:899px;">4.<span class="t">Remove alternator. Refer to <a class="g">SC-27, "CHARGING SYSTEM"</a>&nbsp; .</span></div>
<div class="li" style="top:922px;">5.<span class="t">Remove heated oxygen sensors with the following procedure:</span></div>
<div class="li" style="top:944px;">a.<span class="t">Put marks to identify installation positions of each heated oxygen sensor.</span></div>
<div class="li" style="top:967px;">b.<span class="t" style="word-spacing:3.08px;">Disconnect harness connector of each heated oxygen sensor, and harness from bracket and middle</span></div>
<div class="li" style="top:985px;"><span class="t">clamp.</span></div>
</body></html>
